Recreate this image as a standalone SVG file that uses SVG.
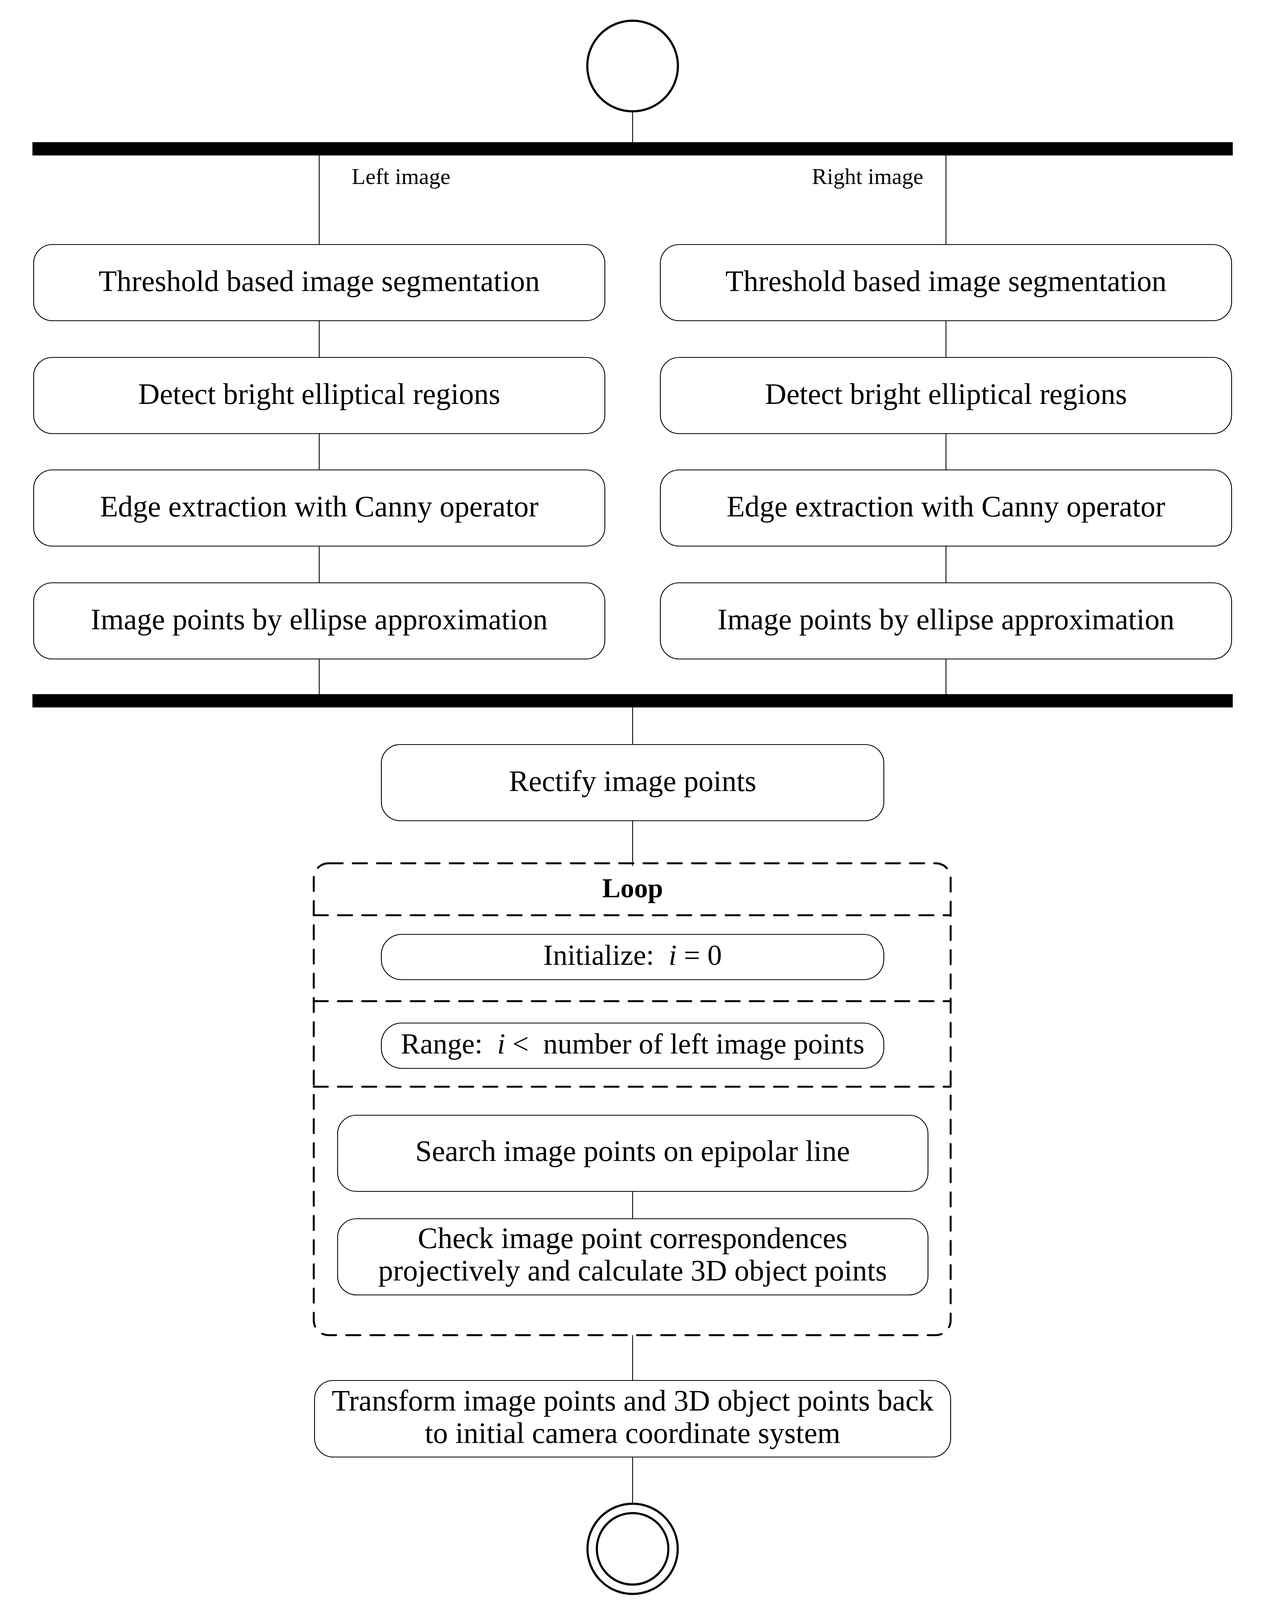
<svg xmlns="http://www.w3.org/2000/svg" width="3258" height="4103" viewBox="0 0 3258 4103">
<style>
.bg{fill:#fff}
.box{fill:#fff;stroke:#000;stroke-width:2.2}
.bar{fill:#000}
.con{stroke:#000;stroke-width:2.2;fill:none}
.frame{fill:none;stroke:#000;stroke-width:5;stroke-dasharray:36 26;stroke-linecap:round}
.t{font-family:"Liberation Serif","Times New Roman",serif;font-size:76px;fill:#000;text-anchor:middle}
.ts{font-family:"Liberation Serif","Times New Roman",serif;font-size:74px;fill:#000;text-anchor:middle}
.lab{font-family:"Liberation Serif","Times New Roman",serif;font-size:58px;fill:#000}
.loop{font-family:"Liberation Serif","Times New Roman",serif;font-size:70px;font-weight:bold;fill:#000;text-anchor:middle}
.ring{fill:#fff;stroke:#000;stroke-width:5.5}
</style>
<rect class="bg" x="0" y="0" width="3258" height="4103"/>
<g id="connectors">
<line class="con" x1="1619" y1="285" x2="1619" y2="364"/>
<line class="con" x1="817" y1="398" x2="817" y2="626"/>
<line class="con" x1="2421" y1="398" x2="2421" y2="626"/>
<line class="con" x1="817" y1="821" x2="817" y2="915"/>
<line class="con" x1="2421" y1="821" x2="2421" y2="915"/>
<line class="con" x1="817" y1="1110" x2="817" y2="1203"/>
<line class="con" x1="2421" y1="1110" x2="2421" y2="1203"/>
<line class="con" x1="817" y1="1398" x2="817" y2="1492"/>
<line class="con" x1="2421" y1="1398" x2="2421" y2="1492"/>
<line class="con" x1="817" y1="1687" x2="817" y2="1777"/>
<line class="con" x1="2421" y1="1687" x2="2421" y2="1777"/>
<line class="con" x1="1619" y1="1811" x2="1619" y2="1906"/>
<line class="con" x1="1619" y1="2101" x2="1619" y2="2217"/>
<line class="con" x1="1619" y1="3050" x2="1619" y2="3120"/>
<line class="con" x1="1619" y1="3418" x2="1619" y2="3534"/>
<line class="con" x1="1619" y1="3730" x2="1619" y2="3850"/>
</g>
<g id="start">
<circle class="ring" cx="1619" cy="169" r="116"/>
</g>
<g id="fork">
<rect class="bar" x="83" y="364" width="3072" height="34"/>
</g>
<g id="label-left">
<text class="lab" x="900" y="471">Left image</text>
</g>
<g id="label-right">
<text class="lab" x="2363" y="471" text-anchor="end">Right image</text>
</g>
<g id="l1"><rect class="box" x="86" y="626" width="1462" height="195" rx="48" ry="48"/><text class="t" x="817" y="745">Threshold based image segmentation</text></g>
<g id="l2"><rect class="box" x="86" y="915" width="1462" height="195" rx="48" ry="48"/><text class="t" x="817" y="1034">Detect bright elliptical regions</text></g>
<g id="l3"><rect class="box" x="86" y="1203" width="1462" height="195" rx="48" ry="48"/><text class="t" x="817" y="1322">Edge extraction with Canny operator</text></g>
<g id="l4"><rect class="box" x="86" y="1492" width="1462" height="195" rx="48" ry="48"/><text class="t" x="817" y="1611">Image points by ellipse approximation</text></g>
<g id="r1"><rect class="box" x="1690" y="626" width="1462" height="195" rx="48" ry="48"/><text class="t" x="2421" y="745">Threshold based image segmentation</text></g>
<g id="r2"><rect class="box" x="1690" y="915" width="1462" height="195" rx="48" ry="48"/><text class="t" x="2421" y="1034">Detect bright elliptical regions</text></g>
<g id="r3"><rect class="box" x="1690" y="1203" width="1462" height="195" rx="48" ry="48"/><text class="t" x="2421" y="1322">Edge extraction with Canny operator</text></g>
<g id="r4"><rect class="box" x="1690" y="1492" width="1462" height="195" rx="48" ry="48"/><text class="t" x="2421" y="1611">Image points by ellipse approximation</text></g>
<g id="join">
<rect class="bar" x="83" y="1777" width="3072" height="34"/>
</g>
<g id="rectify"><rect class="box" x="976" y="1906" width="1286" height="195" rx="48" ry="48"/><text class="t" x="1619" y="2025">Rectify image points</text></g>
<g id="loop">
<rect class="frame" x="803" y="2210" width="1630" height="1208" rx="38" ry="38"/>
<line class="frame" x1="803" y1="2343" x2="2433" y2="2343"/>
<line class="frame" x1="803" y1="2563" x2="2433" y2="2563"/>
<line class="frame" x1="803" y1="2782" x2="2433" y2="2782"/>
<text class="loop" x="1619" y="2297">Loop</text>
</g>
<g id="init"><rect class="box" x="976" y="2392" width="1286" height="116" rx="52" ry="52"/><text class="ts" x="1619" y="2470" xml:space="preserve">Initialize:  <tspan font-style="italic">i</tspan> = 0</text></g>
<g id="range"><rect class="box" x="976" y="2619" width="1286" height="116" rx="52" ry="52"/><text class="ts" x="1619" y="2697" xml:space="preserve">Range:  <tspan font-style="italic">i</tspan> &lt;  number of left image points</text></g>
<g id="search"><rect class="box" x="864" y="2855" width="1511" height="195" rx="48" ry="48"/><text class="t" x="1619" y="2972">Search image points on epipolar line</text></g>
<g id="check"><rect class="box" x="864" y="3120" width="1511" height="195" rx="48" ry="48"/><text class="t" x="1619" y="3195">Check image point correspondences</text><text class="t" x="1619" y="3278">projectively and calculate 3D object points</text></g>
<g id="transform"><rect class="box" x="805" y="3534" width="1628" height="196" rx="48" ry="48"/><text class="t" x="1619" y="3611">Transform image points and 3D object points back</text><text class="t" x="1619" y="3694">to initial camera coordinate system</text></g>
<g id="end">
<circle class="ring" cx="1619" cy="3965" r="115.5"/>
<circle class="ring" cx="1619" cy="3965" r="91.5"/>
</g>
</svg>
